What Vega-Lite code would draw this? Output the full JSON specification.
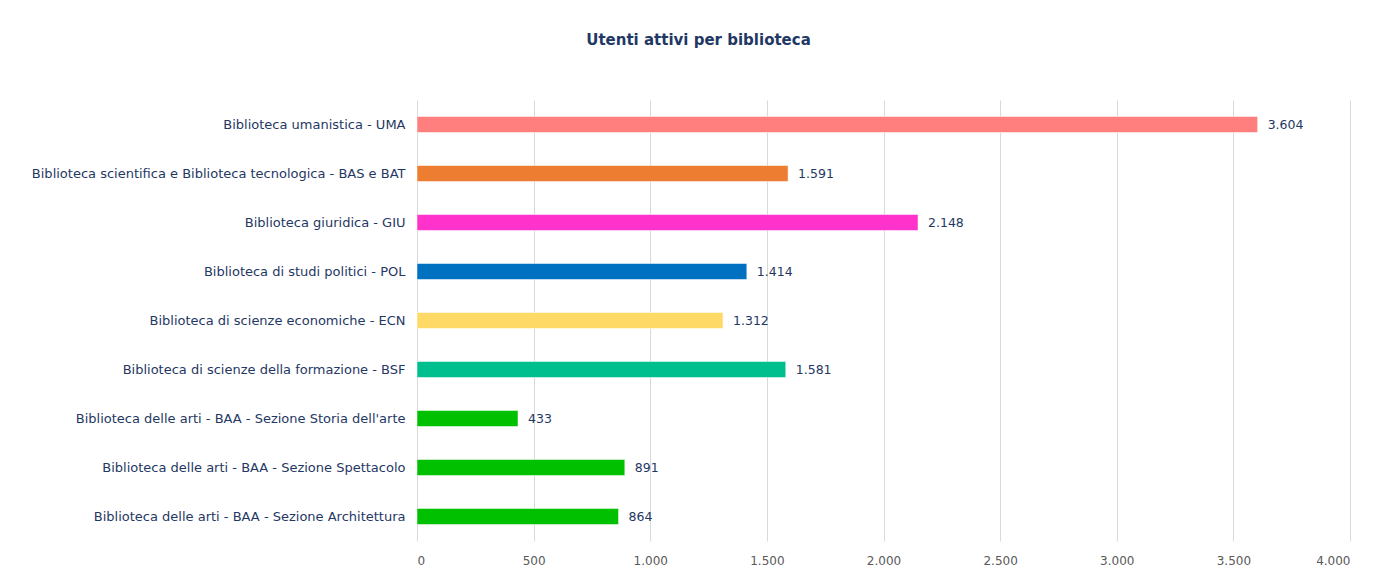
{
  "$schema": "https://vega.github.io/schema/vega-lite/v6.json",
  "width": 933,
  "height": 441,
  "autosize": {"type": "none"},
  "padding": {"left": 417, "top": 100, "right": 28, "bottom": 36},
  "background": "white",
  "config": {
    "locale": {"number": {"decimal": ",", "thousands": ".", "grouping": [3], "currency": ["€", ""]}},
    "font": "DejaVu Sans",
    "view": {"stroke": null}
  },
  "title": {
    "text": "Utenti attivi per biblioteca",
    "anchor": "middle",
    "dx": -185,
    "offset": 52,
    "fontSize": 15,
    "fontWeight": "bold",
    "color": "#1F3864",
    "font": "DejaVu Sans"
  },
  "data": {
    "values": [
      {"biblioteca": "Biblioteca umanistica - UMA", "utenti": 3604, "colore": "#FF7F7F"},
      {"biblioteca": "Biblioteca scientifica e Biblioteca tecnologica - BAS e BAT", "utenti": 1591, "colore": "#ED7D31"},
      {"biblioteca": "Biblioteca giuridica - GIU", "utenti": 2148, "colore": "#FF33CC"},
      {"biblioteca": "Biblioteca di studi politici - POL", "utenti": 1414, "colore": "#0070C0"},
      {"biblioteca": "Biblioteca di scienze economiche - ECN", "utenti": 1312, "colore": "#FFD966"},
      {"biblioteca": "Biblioteca di scienze della formazione - BSF", "utenti": 1581, "colore": "#00BF8F"},
      {"biblioteca": "Biblioteca delle arti - BAA - Sezione Storia dell'arte", "utenti": 433, "colore": "#00C000"},
      {"biblioteca": "Biblioteca delle arti - BAA - Sezione Spettacolo", "utenti": 891, "colore": "#00C000"},
      {"biblioteca": "Biblioteca delle arti - BAA - Sezione Architettura", "utenti": 864, "colore": "#00C000"}
    ]
  },
  "encoding": {
    "y": {
      "field": "biblioteca",
      "type": "nominal",
      "sort": null,
      "title": null,
      "axis": {
        "domain": false,
        "ticks": false,
        "labelFontSize": 13,
        "labelColor": "#1F3864",
        "labelPadding": 12,
        "labelLimit": 500,
        "labelFont": "DejaVu Sans"
      }
    },
    "x": {
      "field": "utenti",
      "type": "quantitative",
      "scale": {"domain": [0, 4000], "nice": false},
      "title": null,
      "axis": {
        "values": [0, 500, 1000, 1500, 2000, 2500, 3000, 3500, 4000],
        "format": ",.0f",
        "domain": false,
        "ticks": false,
        "grid": true,
        "gridColor": "#D9D9D9",
        "labelColor": "#595959",
        "labelFontSize": 12,
        "labelPadding": 14,
        "labelFont": "DejaVu Sans"
      }
    }
  },
  "layer": [
    {
      "mark": {"type": "bar", "height": 16, "stroke": "white", "strokeWidth": 0.5},
      "encoding": {
        "color": {"field": "colore", "type": "nominal", "scale": null}
      }
    },
    {
      "mark": {"type": "text", "align": "left", "dx": 10, "fontSize": 12.5, "color": "#1F3864", "font": "DejaVu Sans"},
      "encoding": {
        "text": {"field": "utenti", "type": "quantitative", "format": ",.0f"}
      }
    }
  ]
}
